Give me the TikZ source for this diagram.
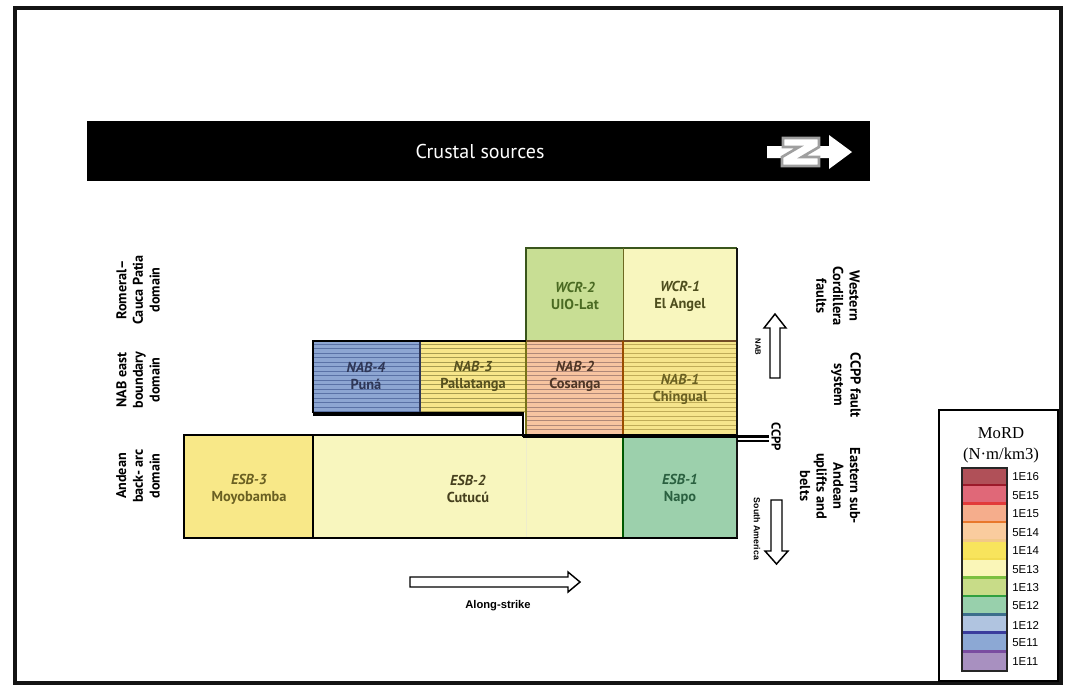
\documentclass[tikz,border=0pt]{standalone}
\usepackage{fontspec}
\setmainfont{PT Sans}
\newfontfamily\arialf{Liberation Sans}
\newfontfamily\timesf{Liberation Serif}
\definecolor{frame}{HTML}{141414}
\definecolor{cWCRtwo}{HTML}{C8DE94}
\definecolor{cPale}{HTML}{F8F6BE}
\definecolor{cBlue}{HTML}{8DA6D2}
\definecolor{sBlue}{HTML}{5A72A6}
\definecolor{cYel}{HTML}{F8E68A}
\definecolor{sYel}{HTML}{A89C50}
\definecolor{cPeach}{HTML}{F7C4A0}
\definecolor{sPeach}{HTML}{B08878}
\definecolor{cYelB}{HTML}{F6E58C}
\definecolor{sYelB}{HTML}{C0AC58}
\definecolor{cESBthree}{HTML}{F8E888}
\definecolor{cGreen}{HTML}{9CD0AC}
\definecolor{tWCRtwo}{HTML}{4A6A22}
\definecolor{tWCRone}{HTML}{4E4E1E}
\definecolor{tNABfour}{HTML}{2E3656}
\definecolor{tNABthree}{HTML}{56501E}
\definecolor{tNABtwo}{HTML}{4E3626}
\definecolor{tNABone}{HTML}{6A6022}
\definecolor{tESBthree}{HTML}{6A6022}
\definecolor{tESBtwo}{HTML}{46401E}
\definecolor{tESBone}{HTML}{2A6040}
\definecolor{bGreen}{HTML}{3A561C}
\tikzset{
  celltext/.style={align=center, font=\fontsize{10.8}{12.8}\selectfont\bfseries, inner sep=0pt},
  leftlab/.style={rotate=90, align=center, font=\fontsize{10.6}{12.5}\selectfont\bfseries, inner sep=0pt},
  rightlab/.style={rotate=-90, align=center, font=\fontsize{10.8}{12.5}\selectfont\bfseries, inner sep=0pt},
  hollow/.style={draw=black, fill=white, line width=1.1pt, line join=miter},
  legnum/.style={anchor=west, font=\arialf\fontsize{8.6}{10}\selectfont, inner sep=0pt},
}
\begin{document}
\begin{tikzpicture}[x=0.75pt,y=-0.75pt]
\useasboundingbox (0,0) rectangle (1069,685);
\fill[white] (0,0) rectangle (1069,685);
% outer frame
\draw[frame, line width=3pt] (14.5,8.5) rectangle (1061,683);

% header bar
\fill[black] (87,121) rectangle (870,181);
\node[white, font=\fontsize{15}{18}\selectfont, inner sep=0pt] (title) at (480,151) {Crustal sources};
% north arrow
\fill[white] (767,146) -- (829,146) -- (829,135) -- (852,152) -- (829,169) -- (829,158) -- (767,158) -- cycle;
\draw[gray!75, line width=2pt, fill=white, line join=miter] (783,138) -- (819,138) -- (819,147) -- (802,157) -- (819,157) -- (819,166) -- (782,166) -- (782,157) -- (799,147) -- (783,147) -- cycle;

% ---------- cells ----------
% WCR
\fill[cWCRtwo] (526,248) rectangle (623,341);
\fill[cPale] (623,248) rectangle (737,341);
% ESB
\fill[cESBthree] (184,435) rectangle (313,538);
\fill[cPale] (313,435) rectangle (623,538);
\fill[cGreen] (623,435) rectangle (737,538);
% NAB
\fill[cBlue] (313,341) rectangle (420,413);
\fill[cYel] (420,341) rectangle (526,413);
\fill[cPeach] (526,341) rectangle (623,436);
\fill[cYelB] (623,341) rectangle (737,436);
% stripes
\begin{scope}
\clip (313,341) rectangle (420,413);
\foreach \yy in {344,348.5,...,414} \draw[sBlue, line width=0.45pt] (313,\yy) -- (420,\yy);
\end{scope}
\begin{scope}
\clip (420,341) rectangle (526,413);
\foreach \yy in {344,348.5,...,414} \draw[sYel, line width=0.45pt] (420,\yy) -- (526,\yy);
\end{scope}
\begin{scope}
\clip (526,341) rectangle (623,436);
\foreach \yy in {344,348.5,...,436} \draw[sPeach, line width=0.45pt] (526,\yy) -- (623,\yy);
\end{scope}
\begin{scope}
\clip (623,341) rectangle (737,436);
\foreach \yy in {344,348.5,...,436} \draw[sYelB, line width=0.45pt] (623,\yy) -- (737,\yy);
\end{scope}

% inner borders
\draw[bGreen, line width=1.5pt] (526,341) -- (526,248) -- (737,248);
\draw[olive!70!black, line width=0.7pt] (623,248) -- (623,341);
\draw[brown!60!black, line width=1pt] (526,341) -- (737,341);
\draw[tNABfour, line width=0.8pt] (420,341) -- (420,413);
\draw[olive!80!black, line width=0.8pt] (526,341) -- (526,436);
\draw[orange!60!black, line width=0.8pt] (623,341) -- (623,436);
\draw[green!35!black, line width=0.8pt] (623,438) -- (623,538);
\draw[black, line width=1.2pt] (313,435) -- (313,538);
\draw[olive!15, line width=0.5pt] (526,438) -- (526,538);
% thick black outlines
\draw[black, line width=2.2pt] (184,435) rectangle (737,538);
\draw[black, line width=2pt] (313,413) -- (313,341) -- (526,341);
\draw[black, line width=3.4pt] (313,414) -- (524,414);
\draw[black, line width=1.8pt] (523,413) -- (523,437);
\draw[frame, line width=1.8pt] (737,248) -- (737,538);
% CCPP line
\draw[black, line width=2.4pt] (523,436.5) -- (769,436.5);
\draw[black, line width=1.1pt] (737,440.8) -- (769,440.8);

% cell labels
\node[celltext, text=tWCRtwo] (wcr2) at (575,296) {\textit{WCR-2}\\UIO-Lat};
\node[celltext, text=tWCRone] (wcr1) at (680,296) {\textit{WCR-1}\\El Angel};
\node[celltext, text=tNABfour] (nab4) at (366,376) {\textit{NAB-4}\\Puná};
\node[celltext, text=tNABthree] (nab3) at (473,376) {\textit{NAB-3}\\Pallatanga};
\node[celltext, text=tNABtwo] (nab2) at (575,376) {\textit{NAB-2}\\Cosanga};
\node[celltext, text=tNABone] (nab1) at (680,389) {\textit{NAB-1}\\Chingual};
\node[celltext, text=tESBthree] (esb3) at (249,489) {\textit{ESB-3}\\Moyobamba};
\node[celltext, text=tESBtwo] (esb2) at (468,489) {\textit{ESB-2}\\Cutucú};
\node[celltext, text=tESBone] (esb1) at (680,489) {\textit{ESB-1}\\Napo};

% left domain labels
\node[leftlab] (romeral) at (138,290) {Romeral–\\Cauca Patia\\domain};
\node[leftlab] (nabeast) at (138,380) {NAB east\\boundary\\domain};
\node[leftlab] (andean) at (138,476) {Andean\\back- arc\\domain};

% right labels
\node[rightlab] (western) at (838,296) {Western\\Cordillera\\faults};
\node[rightlab] (ccppfault) at (846,385) {CCPP fault\\system};
\node[rightlab] (eastern) at (830,486) {Eastern sub-\\Andean\\uplifts and\\belts};
\node[rotate=-90, font=\fontsize{9.6}{10}\selectfont\bfseries, inner sep=0pt] (ccpp) at (776,437) {CCPP};
\node[rotate=-90, font=\arialf\fontsize{5.8}{7}\selectfont\bfseries, inner sep=0pt] (nabt) at (758,347) {NAB};
\node[rotate=-90, font=\arialf\fontsize{6.6}{7}\selectfont\bfseries, inner sep=0pt] (sam) at (757,529) {South America};

% block arrows
\draw[hollow] (770,378) -- (780,378) -- (780,328) -- (786,328) -- (775,314) -- (764,328) -- (770,328) -- cycle;
\draw[hollow] (771,500) -- (782,500) -- (782,551) -- (788,551) -- (776.5,564) -- (765,551) -- (771,551) -- cycle;
\draw[hollow] (410,577) -- (568,577) -- (568,572) -- (580,582) -- (568,592) -- (568,587) -- (410,587) -- cycle;
\node[font=\arialf\fontsize{8.4}{10}\selectfont\bfseries, inner sep=0pt] (along) at (498,606) {Along-strike};

% legend
\draw[black, line width=1.8pt, fill=white] (939,410) rectangle (1058,681);
\node[font=\timesf\fontsize{12.5}{14}\selectfont, inner sep=0pt] (mord) at (1001,433) {MoRD};
\node[font=\timesf\fontsize{12.5}{14}\selectfont, inner sep=0pt] (unit) at (1001,455) {(N·m/km3)};
\def\sh{18.45}
\foreach \c/\s [count=\i from 0] in {B05058/9C1A2A, E06878/E23A3A, F5AD8C/E8782C, FACC9E/F2C888, F8E45C/F2DC50, FAF6B8/7CC040, C8DC88/30A040, 98D0AC/3C6E8C, B0C4E0/3A3C9C, 8CA8D4/7A4CA0, A890C0/A890C0} {
  \definecolor{swf}{HTML}{\c}
  \definecolor{sws}{HTML}{\s}
  \fill[swf] (962,{468+\i*\sh}) rectangle (1007,{468+(\i+1)*\sh});
  \fill[sws] (962,{468+(\i+1)*\sh-2.6}) rectangle (1007,{468+(\i+1)*\sh});
}
\draw[red!80!black, line width=1pt] (962,468.5) -- (1007,468.5);
\draw[black!85, line width=1.6pt] (962,468) rectangle (1007,671);
\node[legnum] (l1) at (1012,477) {1E16};
\node[legnum] (l2) at (1012,496) {5E15};
\node[legnum] (l3) at (1012,514) {1E15};
\node[legnum] (l4) at (1012,533) {5E14};
\node[legnum] (l5) at (1012,551) {1E14};
\node[legnum] (l6) at (1012,570) {5E13};
\node[legnum] (l7) at (1012,588) {1E13};
\node[legnum] (l8) at (1012,606) {5E12};
\node[legnum] (l9) at (1012,625) {1E12};
\node[legnum] (l10) at (1012,643) {5E11};
\node[legnum] (l11) at (1012,662) {1E11};
\end{tikzpicture}
\end{document}
